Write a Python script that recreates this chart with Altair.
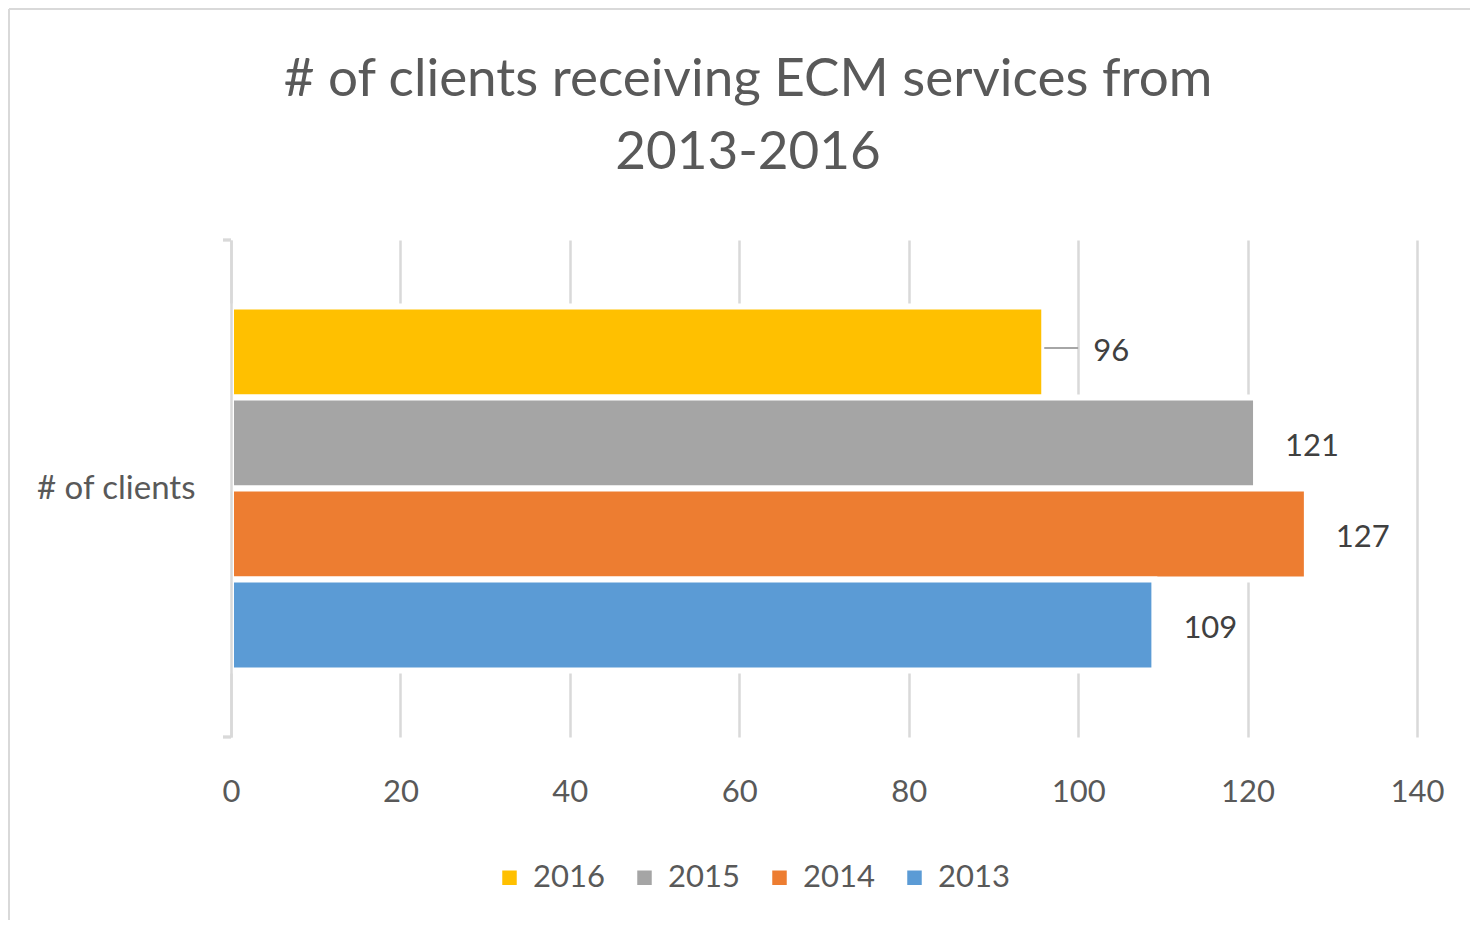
import altair as alt
import pandas as pd

years = ["2016", "2015", "2014", "2013"]
clients = [96, 121, 127, 109]
colors = ["#FFC000", "#A5A5A5", "#ED7D31", "#5B9BD5"]
x_ticks = [0, 20, 40, 60, 80, 100, 120, 140]
title_lines = ["# of clients receiving ECM services from", "2013-2016"]
category_label = "# of clients"

df = pd.DataFrame({"year": years, "clients": clients})

FONT = "Lato"
W, H = 1186, 497

y_enc = alt.Y(
    "year:N",
    scale=alt.Scale(domain=years, paddingInner=0, paddingOuter=0.73),
    axis=alt.Axis(
        labels=False, ticks=False, domain=True, domainColor="#d9d9d9",
        domainWidth=2.5, title=category_label, titleAngle=0, titleAlign="right",
        titleBaseline="middle", titleFont=FONT, titleFontSize=33,
        titleFontWeight="normal", titleColor="#595959", titlePadding=36, zindex=1,
    ),
)
x_enc = alt.X(
    "clients:Q",
    scale=alt.Scale(domain=[0, 140], nice=False, zero=True),
    axis=alt.Axis(
        values=x_ticks, grid=True, gridColor="#d9d9d9", gridWidth=2.5,
        domain=False, ticks=False, labelFont=FONT, labelFontSize=31,
        labelColor="#595959", labelPadding=40, labelFlush=False, title=None,
    ),
)

base = alt.Chart(df)

bars = base.mark_bar(stroke="white", strokeWidth=6).encode(
    x=x_enc,
    y=y_enc,
    color=alt.Color(
        "year:N",
        scale=alt.Scale(domain=years, range=colors),
        legend=alt.Legend(
            orient="none", legendX=263, legendY=622, direction="horizontal",
            title=None, symbolType="square", symbolSize=210, symbolStrokeWidth=0,
            labelFont=FONT, labelFontSize=31, labelColor="#595959",
            labelOffset=8, columnPadding=24,
        ),
    ),
)

labels = base.transform_filter(alt.datum.year != "2016").mark_text(
    align="left", baseline="middle", dx=29, dy=4, font=FONT, fontSize=31,
    color="#404040"
).encode(x="clients:Q", y=alt.Y("year:N"), text="clients:Q")

label96 = base.transform_filter(alt.datum.year == "2016").mark_text(
    align="left", baseline="middle", dx=49, font=FONT, fontSize=31, color="#404040"
).encode(x="clients:Q", y=alt.Y("year:N"), text="clients:Q")

leader = base.transform_filter(alt.datum.year == "2016").transform_calculate(
    lead_end="datum.clients + 4"
).mark_rule(color="#a6a6a6", strokeWidth=2, yOffset=-4).encode(
    x="clients:Q", x2="lead_end:Q", y=alt.Y("year:N")
)

tick_top = base.mark_rule(color="#d9d9d9", strokeWidth=2.5).encode(
    x=alt.value(-8), x2=alt.value(0), y=alt.value(0)
)
tick_bot = base.mark_rule(color="#d9d9d9", strokeWidth=2.5).encode(
    x=alt.value(-8), x2=alt.value(0), y=alt.value(H)
)
border_left = base.mark_rule(color="#d9d9d9", strokeWidth=2).encode(
    x=alt.value(-222), y=alt.value(-231), y2=alt.value(H + 183)
)
border_top = base.mark_rule(color="#d9d9d9", strokeWidth=2).encode(
    x=alt.value(-222), x2=alt.value(W + 53), y=alt.value(-231)
)

chart = alt.layer(
    bars, leader, labels, label96, tick_top, tick_bot, border_left, border_top
).properties(
    width=W,
    height=H,
    title=alt.TitleParams(
        text=title_lines, font=FONT, fontSize=53, fontWeight="normal",
        color="#595959", anchor="middle", dx=-76, offset=-172, lineHeight=73,
    ),
    autosize=alt.AutoSizeParams(type="none"),
    padding={"left": 223, "top": 232, "right": 53, "bottom": 183},
).configure_view(stroke=None)

chart.save("out.html", embed_options={"renderer": "svg", "actions": False})
